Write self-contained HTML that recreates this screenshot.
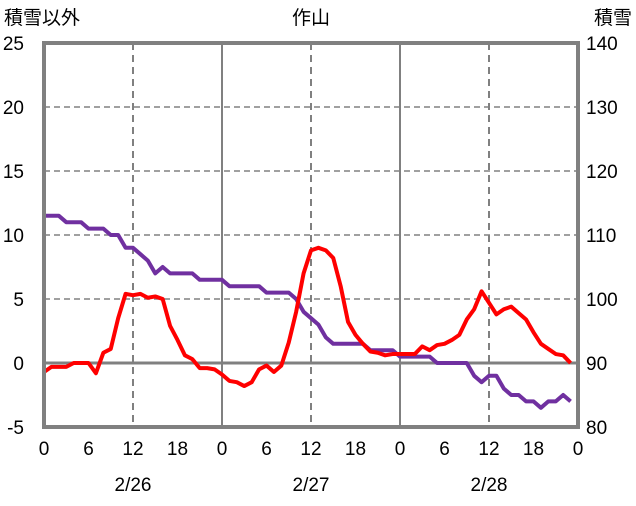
<!DOCTYPE html>
<html><head><meta charset="utf-8"><style>
body{margin:0;background:#fff;width:636px;height:501px;overflow:hidden}
text{font-family:"Liberation Sans","Noto Sans CJK JP",sans-serif;fill:#000}
</style></head><body>
<svg id="chart" width="636" height="501" xmlns="http://www.w3.org/2000/svg"></svg>
<script>
const redValues=[-0.7,-0.3,-0.3,-0.3,0,0,0,-0.8,0.8,1.1,3.5,5.4,5.3,5.4,5.1,5.2,5.0,2.9,1.8,0.6,0.3,-0.4,-0.4,-0.5,-0.9,-1.4,-1.5,-1.8,-1.5,-0.5,-0.2,-0.7,-0.2,1.6,4.0,7.0,8.8,9.0,8.8,8.2,6.0,3.2,2.2,1.5,0.9,0.8,0.6,0.7,0.7,0.7,0.7,1.3,1.0,1.4,1.5,1.8,2.2,3.4,4.2,5.6,4.7,3.8,4.2,4.4,3.9,3.4,2.4,1.5,1.1,0.7,0.6,0.0];
const snowValues=[113,113,113,112,112,112,111,111,111,110,110,108,108,107,106,104,105,104,104,104,104,103,103,103,103,102,102,102,102,102,101,101,101,101,100,98,97,96,94,93,93,93,93,93,92,92,92,92,91,91,91,91,91,90,90,90,90,90,88,87,88,88,86,85,85,84,84,83,84,84,85,84];
const leftTicks=[-5,0,5,10,15,20,25];
const rightTicks=[80,90,100,110,120,130,140];
const hourTicks=[0,6,12,18,24,30,36,42,48,54,60,66,72];
const hourLabels=["0","6","12","18","0","6","12","18","0","6","12","18","0"];
const dateLabels=["2/26","2/27","2/28"];
const L=44,R=578,T=43,B=427;
const x=h=>L+(R-L)*h/72;
const yl=v=>B-(v+5)/30*(B-T);
const yr=v=>B-(v-80)/60*(B-T);
const svg=document.getElementById('chart');
const NS='http://www.w3.org/2000/svg';
function mk(tag,attrs,txt){const e=document.createElementNS(NS,tag);for(const k in attrs)e.setAttribute(k,attrs[k]);if(txt!==undefined)e.textContent=txt;svg.appendChild(e);return e;}
// grid
leftTicks.forEach(v=>{if(v===-5||v===25)return;
 const g=mk('line',{x1:L,x2:R,y1:yl(v),y2:yl(v),stroke:'#808080','stroke-width':v===0?3:1.5,'stroke-dasharray':v===0?'':'6,4'});
 
 });
hourTicks.forEach(h=>{if(h===0||h===72||h%12)return;
 const day=h%24===0;
 const g=mk('line',{x1:x(h),x2:x(h),y1:T,y2:B,stroke:'#808080','stroke-width':day?2:2,'stroke-dasharray':day?'':'7,5'});
 
 });
// series
const sp=mk('polyline',{points:snowValues.map((v,i)=>x(i)+','+yr(v)).join(' '),fill:'none',stroke:'#7030a0','stroke-width':4,'stroke-linejoin':'round'});


const rp=mk('polyline',{points:redValues.map((v,i)=>x(i)+','+yl(v)).join(' '),fill:'none',stroke:'#ff0000','stroke-width':4,'stroke-linejoin':'round'});


// frame
const fr=mk('rect',{x:L,y:T,width:R-L,height:B-T,fill:'none',stroke:'#808080','stroke-width':4});


// ticks labels
leftTicks.forEach(v=>{const t=mk('text',{x:24,y:yl(v)+7,'text-anchor':'end','font-size':19},String(v));
 
 });
rightTicks.forEach(v=>{const t=mk('text',{x:586,y:yr(v)+7,'font-size':19},String(v));
 
 });
hourTicks.forEach((h,i)=>{const t=mk('text',{x:x(h),y:455,'text-anchor':'middle','font-size':19},hourLabels[i]);
 
 });
dateLabels.forEach((d,i)=>{const t=mk('text',{x:x(12+24*i),y:491,'text-anchor':'middle','font-size':19},d);
 
 });
const t1=mk('text',{x:4,y:24,'font-size':19},'積雪以外');


const t2=mk('text',{x:632,y:24,'text-anchor':'end','font-size':19},'積雪');


const t3=mk('text',{x:311,y:24,'text-anchor':'middle','font-size':19},'作山');


</script>
</body></html>
